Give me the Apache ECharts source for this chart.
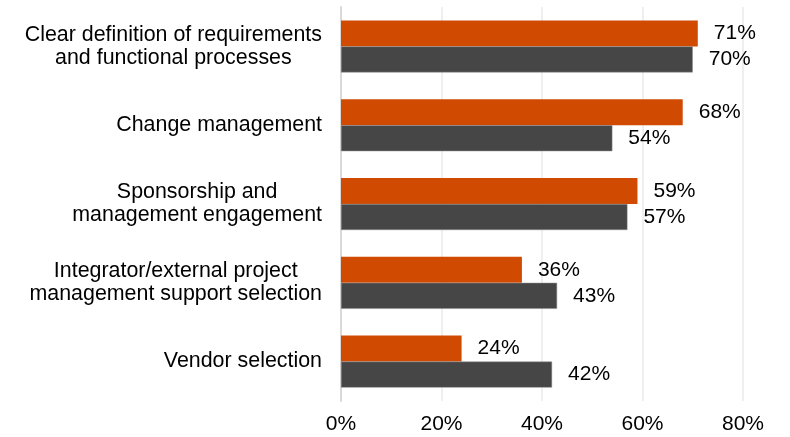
<!DOCTYPE html>
<html>
<head>
<meta charset="utf-8">
<script src="https://cdn.jsdelivr.net/npm/echarts@6/dist/echarts.min.js"></script>
<style>
html, body { margin: 0; padding: 0; background: #fff; }
#chart { width: 790px; height: 437px; }
</style>
</head>
<body>
<div id="chart"></div>
<script>
// categories, top to bottom
var categories = [
	'Clear definition of requirements\nand functional processes',
	'Change management',
	'Sponsorship and\nmanagement engagement',
	'Integrator/external project\nmanagement support selection',
	'Vendor selection'
];
var orangeValues = [71, 68, 59, 36, 24];
var grayValues = [70, 54, 57, 43, 42];
var xTicks = [0, 20, 40, 60, 80];

var font = 'Arial, "Liberation Sans", sans-serif';

// center each line inside a right aligned block
function centerLines(val) {
	return val.split('\n').map(function (l) { return '{c|' + l + '}'; }).join('\n');
}

var barLabel = {
	show: true,
	position: 'right',
	distance: 16,
	formatter: '{c}%',
	fontSize: 21,
	fontFamily: font,
	color: '#000'
};

echarts.init(document.getElementById('chart')).setOption({
	animation: false,
	grid: { left: 341, right: 47, top: 7, bottom: 36 },
	xAxis: {
		type: 'value',
		min: xTicks[0],
		max: xTicks[xTicks.length - 1],
		interval: 20,
		axisLine: { show: false },
		axisTick: { show: false },
		splitLine: { lineStyle: { color: '#efefef', width: 2 } },
		axisLabel: {
			formatter: '{value}%',
			fontSize: 21,
			fontFamily: font,
			color: '#000',
			margin: 13
		}
	},
	yAxis: {
		type: 'category',
		inverse: true,
		data: categories,
		axisTick: { show: false },
		axisLine: { lineStyle: { color: '#d9d9d9', width: 2 } },
		axisLabel: {
			margin: 19,
			formatter: centerLines,
			rich: {
				c: { align: 'center', fontSize: 21.4, lineHeight: 23, fontFamily: font, color: '#000' }
			}
		}
	},
	series: [{
		type: 'bar',
		data: orangeValues,
		barWidth: 26,
		barGap: '0%',
		itemStyle: { color: '#d04a02' },
		label: barLabel
	}, {
		type: 'bar',
		data: grayValues,
		barWidth: 26,
		barGap: '0%',
		itemStyle: { color: '#464646', borderColor: '#8c8c8c', borderWidth: 0.5 },
		label: barLabel
	}]
});
</script>
</body>
</html>
